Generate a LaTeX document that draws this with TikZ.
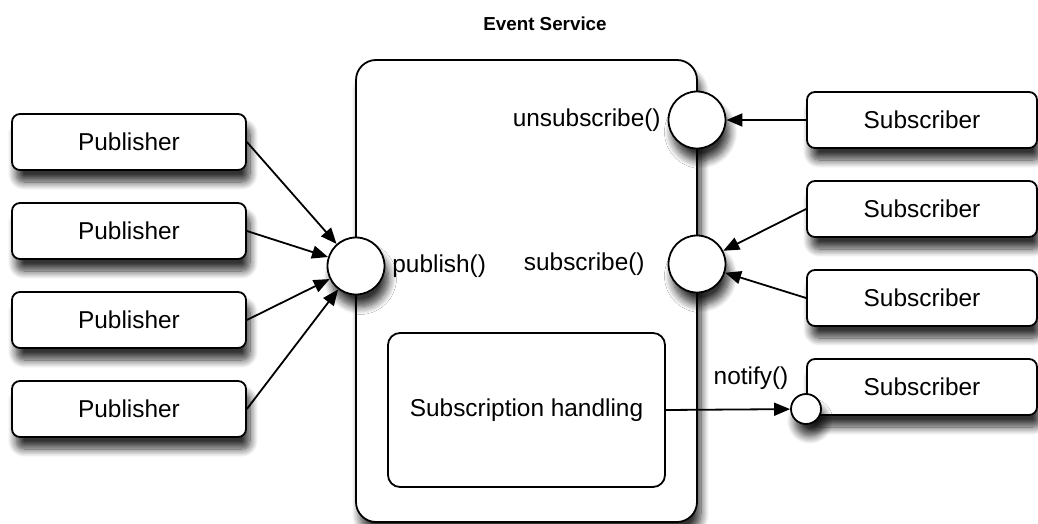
\documentclass[tikz,border=0pt]{standalone}
\usepackage{fontspec}
\setmainfont{Liberation Sans}
\usepackage{tikz}
\usetikzlibrary{shapes.geometric, arrows.meta, positioning, shadows.blur}
\tikzset{
  softshadow/.style={blur shadow={shadow xshift=2pt, shadow yshift=-6pt,
                     shadow blur radius=4pt, shadow blur steps=10, shadow opacity=80}},
  service/.style={rectangle, draw, line width=0.9pt, rounded corners=10pt, fill=white,
                  minimum width=170.5pt, minimum height=231pt, softshadow},
  pubbox/.style={rectangle, draw, line width=0.9pt, rounded corners=4pt, fill=white,
                 minimum width=117pt, minimum height=28pt, softshadow},
  subbox/.style={pubbox, minimum width=115pt},
  handler/.style={rectangle, draw, line width=0.9pt, rounded corners=6pt, fill=white,
                  minimum width=138.5pt, minimum height=77pt},
  port/.style={circle, draw, line width=0.9pt, fill=white, minimum size=28.5pt,
               inner sep=0pt, softshadow},
  smallport/.style={port, minimum size=15pt},
  arrow/.style={-{Triangle[length=8pt, width=6.5pt]}, line width=0.9pt},
  lbl/.style={inner sep=3.3pt},
  heading/.style={font=\bfseries\fontsize{9.4}{11}\selectfont},
}

\begin{document}
\begin{tikzpicture}[x=0.5pt, y=-0.5pt, font=\fontsize{12.2}{14}\selectfont]
  \useasboundingbox (0,0) rectangle (1038,524);

  \node[heading] (head) at (545,24) {Event Service};

  % the service and its ports
  \node[service] (svc) at (526.5,291) {};
  \node[port] (publish) at (356,266) {};
  \node[port] (unsub)   at (697,120) {};
  \node[port] (subs)    at (697,264) {};
  \node[handler] (handling) at (526.5,410) {Subscription handling};

  \node[lbl, right=0pt of publish] (publbl) {publish()};
  \node[lbl, left=0pt of unsub]    (unsublbl) {unsubscribe()};
  \node[lbl, left=8pt of subs]     (subslbl) {subscribe()};

  % clients on both sides
  \foreach \i/\y in {1/142, 2/231, 3/320, 4/409}
    \node[pubbox] (pub\i) at (129,\y) {Publisher};
  \foreach \i/\y in {1/120, 2/209, 3/298, 4/387}
    \node[subbox] (sub\i) at (922,\y) {Subscriber};
  \node[smallport] (notify) at (806,409) {};

  \foreach \i in {1,...,4}
    \draw[arrow] (pub\i.east) -- (publish);
  \draw[arrow] (sub1.west) -- (unsub);
  \foreach \i in {2,3}
    \draw[arrow] (sub\i.west) -- (subs);
  \draw[arrow] (handling.east) -- (notify);

  \node[lbl] (notifylbl) at (751,378) {notify()};
\end{tikzpicture}
\end{document}
